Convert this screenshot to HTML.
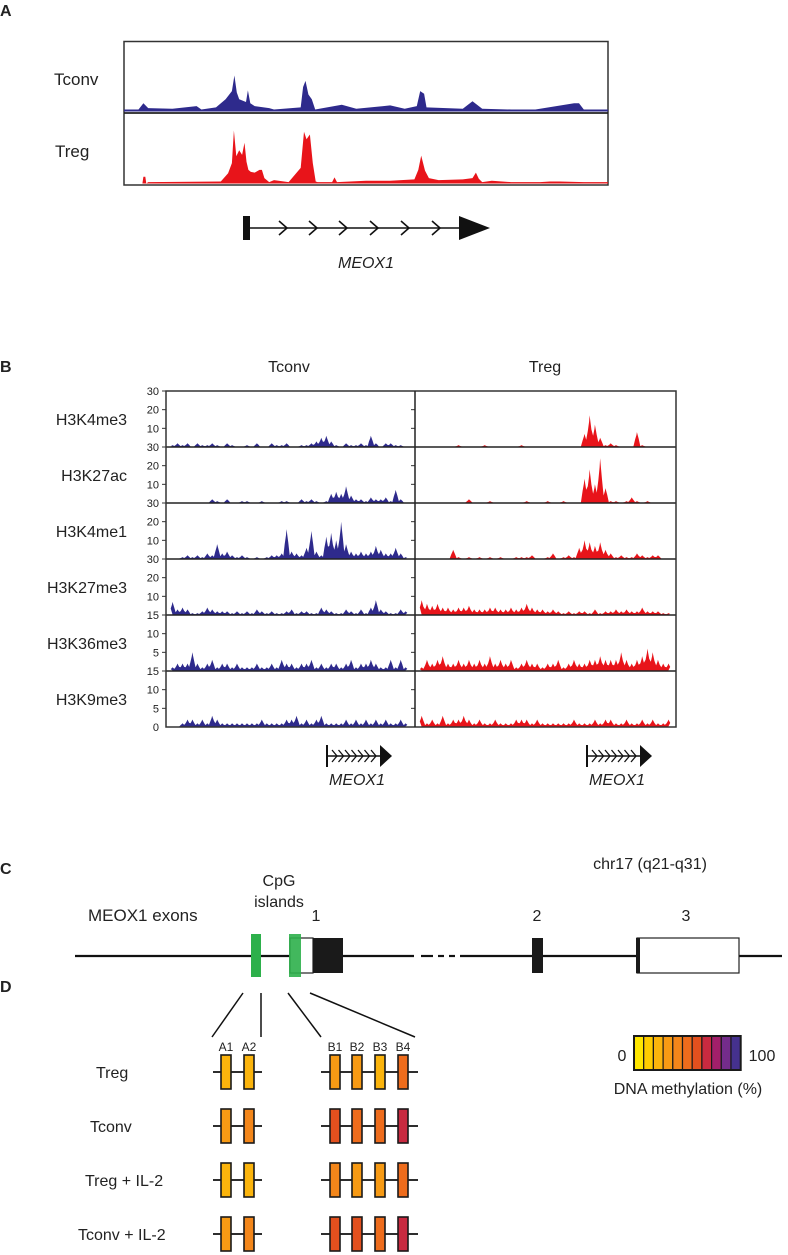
<!DOCTYPE html>
<html><head><meta charset="utf-8"><style>
html,body{margin:0;padding:0;background:#fff}
svg{display:block}
text{font-family:"Liberation Sans",Arial,sans-serif;fill:#222}
</style></head><body>
<svg id="fig" width="788" height="1255" viewBox="0 0 788 1255" xmlns="http://www.w3.org/2000/svg">
<!-- Panel A -->
<g>
<text x="0" y="16" font-size="16" font-weight="bold">A</text>
<rect x="124" y="41.5" width="484" height="143.5" fill="none" stroke="#333" stroke-width="1.5"/>
<line x1="124" y1="113" x2="608" y2="113" stroke="#222" stroke-width="1.8"/>
<text x="54" y="85" font-size="17">Tconv</text>
<text x="55" y="157" font-size="17">Treg</text>
<g id="trackA"></g>
<g>
<rect x="243" y="216" width="7" height="24" fill="#111"/>
<line x1="250" y1="228" x2="462" y2="228" stroke="#111" stroke-width="1.6"/>
<g fill="none" stroke="#111" stroke-width="1.6">
<polyline points="279,221 287,228 279,235"/><polyline points="309,221 317,228 309,235"/>
<polyline points="339,221 347,228 339,235"/><polyline points="370,221 378,228 370,235"/>
<polyline points="401,221 409,228 401,235"/><polyline points="432,221 440,228 432,235"/>
</g>
<polygon points="459,216 459,240 490,228" fill="#111"/>
</g>
<text x="366" y="268" font-size="16" font-style="italic" text-anchor="middle">MEOX1</text>
</g>

<!-- Panel B -->
<g>
<text x="0" y="372" font-size="16" font-weight="bold">B</text>
<text x="289" y="372" font-size="16" text-anchor="middle">Tconv</text>
<text x="545" y="372" font-size="16" text-anchor="middle">Treg</text>
<g id="trackB"></g>
<rect x="166" y="391" width="510" height="336" fill="none" stroke="#333" stroke-width="1.5"/>
<line x1="415" y1="391" x2="415" y2="727" stroke="#222" stroke-width="1.5"/>
<g id="geneB"></g>
</g>

<!-- Panel C -->
<g>
<text x="0" y="874" font-size="16" font-weight="bold">C</text>
<text x="650" y="869" font-size="16" text-anchor="middle">chr17 (q21-q31)</text>
<text x="279" y="886" font-size="16" text-anchor="middle">CpG</text>
<text x="279" y="907" font-size="16" text-anchor="middle">islands</text>
<text x="88" y="921" font-size="17">MEOX1 exons</text>
<text x="316" y="921" font-size="16" text-anchor="middle">1</text>
<text x="537" y="921" font-size="16" text-anchor="middle">2</text>
<text x="686" y="921" font-size="16" text-anchor="middle">3</text>
<g stroke="#111" stroke-width="2.2">
<line x1="75" y1="956" x2="414" y2="956"/>
<line x1="421" y1="956" x2="433" y2="956"/><line x1="438" y1="956" x2="444" y2="956"/><line x1="449" y1="956" x2="455" y2="956"/>
<line x1="460" y1="956" x2="782" y2="956"/>
</g>
<rect x="290" y="938" width="23" height="35" fill="#fff" stroke="#222" stroke-width="1.2"/>
<rect x="313" y="938" width="30" height="35" fill="#1a1a1a"/>
<rect x="532" y="938" width="11" height="35" fill="#1a1a1a"/>
<rect x="637" y="938" width="102" height="35" fill="#fff" stroke="#222" stroke-width="1.2"/>
<rect x="636" y="938" width="4" height="35" fill="#1a1a1a"/>
<rect x="251" y="934" width="10" height="43" fill="#2db04b"/>
<rect x="289" y="934" width="12" height="43" fill="#2db04b" fill-opacity="0.9"/>
</g>

<!-- Panel D -->
<g>
<text x="0" y="992" font-size="16" font-weight="bold">D</text>
<g stroke="#111" stroke-width="1.5">
<line x1="243" y1="993" x2="212" y2="1037"/><line x1="261" y1="993" x2="261" y2="1037"/>
<line x1="288" y1="993" x2="321" y2="1037"/><line x1="310" y1="993" x2="415" y2="1037"/>
</g>
<g id="methyl"></g>
<g id="legend"></g>
<text x="622" y="1061" font-size="16" text-anchor="middle">0</text>
<text x="762" y="1061" font-size="16" text-anchor="middle">100</text>
<text x="688" y="1094" font-size="16" text-anchor="middle">DNA methylation (%)</text>
</g>
</svg>
<script>
// ---------- Panel A data (genomic position %, signal) ----------
const aTconvPos = [0,3,4,5,10,15,16,19,21,22.3,22.8,23.3,23.8,24.5,25.2,25.6,26.1,27,30,31,36.5,37,37.5,38.1,38.8,39.5,45,48,55,58,60.5,61.2,62,62.5,70,72,74,80,85,93,94,95,100];
const aTconvVal = [0.3,0.3,1.2,0.5,0.4,0.8,0.3,0.6,1.8,3,5.3,2.8,1.8,1.6,1.4,3.1,1.2,0.8,0.5,0.3,0.6,3.6,4.5,2.5,1.8,0.3,1,0.4,0.9,0.4,0.8,3,2.6,0.6,0.4,1.5,0.4,0.3,0.3,1.2,1.2,0.3,0.3];
const aTregPos = [0,3.8,4,4.4,4.6,5,20,21.5,22.3,22.7,23.2,23.8,24.4,24.9,25.3,25.7,26.2,27,28,28.5,29,30,31,34,36.5,37.2,37.7,38.4,39,39.6,40,43,43.5,44,50,55,60,60.8,61.4,62.2,63,65,70,72,72.7,73.3,74,76,80,86,88,90,95,100];
const aTregVal = [0,0,1,1,0,0.2,0.3,1.5,3,7.8,4,4.9,4.2,6,3.2,2,1.7,1.6,2,2,0.8,0.2,0.5,0.2,2.3,7.6,6.5,7.2,3,0.3,0.2,0.2,0.9,0.2,0.4,0.4,0.6,2,4.1,1.9,0.8,0.5,0.6,0.8,1.6,0.7,0.2,0.4,0.2,0.2,0.3,0.3,0.2,0.2];

// ---------- Panel B data (48 bins per track) ----------
const marks = ["H3K4me3","H3K27ac","H3K4me1","H3K27me3","H3K36me3","H3K9me3"];
const markMax = [30,30,30,30,15,15];
const tickLabels = [["30","20","10"],["30","20","10"],["30","20","10"],["30","20","10"],["15","10","5"],["15","10","5"]];
const tickValues = [[30,20,10],[30,20,10],[30,20,10],[30,20,10],[15,10,5],[15,10,5]];
const tconvK4me3 = [1,2,1,2,0,2,1,1,2,1,0,2,1,0,0,1,0,2,0,0,2,1,1,2,0,0,1,1,2,3,5,6,3,1,0,2,1,1,2,1,6,2,0,2,2,1,1,0];
const tregK4me3  = [0,0,0,0,0,0,0,1,0,0,0,0,1,0,0,0,0,0,0,1,0,0,0,0,0,0,0,0,0,0,0,7,17,12,5,1,2,1,0,0,0,8,1,0,0,0,0,0];
const tconvK27ac = [0,0,0,0,0,0,0,0,2,1,0,2,0,0,1,1,0,0,1,0,0,0,1,1,0,0,2,1,2,1,0,1,5,6,5,9,4,2,2,1,3,2,2,3,1,7,2,0];
const tregK27ac  = [0,0,0,0,0,0,0,0,0,2,0,0,0,1,0,0,0,0,0,0,1,0,0,0,1,0,0,1,0,0,0,13,18,10,24,8,1,1,0,1,3,1,0,1,0,0,0,0];
const tconvK4me1 = [0,0,1,2,1,2,1,3,2,8,3,4,2,1,2,1,0,1,0,1,2,2,3,16,4,3,2,6,15,4,2,12,14,10,20,8,4,3,4,3,4,7,5,3,3,6,3,1];
const tregK4me1  = [0,0,0,0,0,0,5,1,0,1,0,1,0,1,0,1,0,0,1,1,1,2,0,0,1,3,0,1,2,1,6,10,9,7,9,5,3,1,2,1,1,3,2,1,2,2,0,0];
const tconvK27me3 = [7,3,4,3,1,1,2,4,3,2,2,2,1,2,1,2,1,3,2,1,2,1,1,2,3,1,2,2,1,1,4,3,2,1,1,3,2,1,3,1,4,8,3,2,1,1,3,2];
const tregK27me3  = [8,6,5,6,4,4,3,4,4,5,3,3,3,4,4,3,3,4,3,4,6,4,3,3,2,3,2,1,2,1,2,2,1,3,1,2,2,3,2,3,2,2,4,2,2,2,1,1];
const tconvK36me3 = [1,2,2,2,5,2,1,2,3,1,2,2,1,2,1,1,1,2,1,1,2,1,3,2,2,1,2,2,3,1,2,1,2,2,1,2,3,1,2,2,3,2,1,1,3,1,3,1];
const tregK36me3  = [1,3,2,3,4,2,2,3,2,3,2,3,2,4,2,3,2,3,1,2,3,2,2,1,2,2,3,1,2,3,2,2,3,3,4,3,3,3,5,3,2,3,4,6,5,3,2,2];
const tconvK9me3 = [0,0,1,2,2,1,2,1,3,2,1,1,1,1,1,1,1,1,2,1,1,1,1,2,2,3,1,2,1,2,3,1,1,1,1,2,1,2,1,2,1,2,1,2,1,1,2,1];
const tregK9me3  = [3,1,2,1,3,1,2,2,3,2,1,2,1,1,2,1,1,1,2,2,2,1,2,1,1,1,1,1,1,2,1,1,1,2,1,2,2,1,1,2,1,1,2,1,2,1,1,2];
const tconvSeries = [tconvK4me3,tconvK27ac,tconvK4me1,tconvK27me3,tconvK36me3,tconvK9me3];
const tregSeries  = [tregK4me3,tregK27ac,tregK4me1,tregK27me3,tregK36me3,tregK9me3];

// ---------- Panel D data ----------
const conditions = ["Treg","Tconv","Treg + IL-2","Tconv + IL-2"];
const siteNames = ["A1","A2","B1","B2","B3","B4"];
const methTreg = [15,22,32,28,24,45];
const methTconv = [34,42,60,52,52,70];
const methTregIL2 = [15,22,36,33,26,45];
const methTconvIL2 = [32,38,63,55,52,70];
const methRows = [methTreg,methTconv,methTregIL2,methTconvIL2];
const legendSteps = [0,10,20,30,40,50,60,70,80,90,100];

const NS = "http://www.w3.org/2000/svg";
function mk(tag, attrs, parent){const e=document.createElementNS(NS,tag);for(const k in attrs)e.setAttribute(k,attrs[k]);parent.appendChild(e);return e;}

// Panel A
const gA = document.getElementById('trackA');
function aX(p){return 124 + p*4.84;}
function areaA(pos, val, base, pxPerUnit, color, name){
  let pts = aX(pos[0])+","+base;
  for(let i=0;i<pos.length;i++) pts += " "+aX(pos[i]).toFixed(1)+","+(base-val[i]*pxPerUnit).toFixed(1);
  pts += " "+aX(pos[pos.length-1])+","+base;
  const p = mk('polygon',{points:pts,fill:color},gA);
  
  
}
areaA(aTconvPos,aTconvVal,111.5,6.8,'#2e2a8c','tconv-signal-a');
areaA(aTregPos,aTregVal,183.5,6.8,'#e8141a','treg-signal-a');

// Panel B
const gB = document.getElementById('trackB');
const rowTop = 391, rowH = 56;
function yB(r, v){return rowTop + (r+1)*rowH - v/markMax[r]*rowH;}
function xB(col, i){const x0 = col===0?170:419, w = col===0?238:252; return x0 + (i+0.5)*w/48;}
for(let r=0;r<marks.length;r++){
  const lab = mk('text',{x:127,y:rowTop+r*rowH+34,'font-size':16,'text-anchor':'end'},gB);
  lab.textContent = marks[r];
  
  
  for(let t=0;t<tickValues[r].length;t++){
    const y = yB(r, tickValues[r][t]);
    const tl = mk('text',{x:159,y:y+4,'font-size':11,'text-anchor':'end',fill:'#333'},gB);
    tl.textContent = tickLabels[r][t];
    
    
    mk('line',{x1:162,y1:y,x2:166,y2:y,stroke:'#333','stroke-width':1},gB);
    mk('line',{x1:411,y1:y,x2:415,y2:y,stroke:'#333','stroke-width':1},gB);
  }
  if(r>0) mk('line',{x1:166,y1:rowTop+r*rowH,x2:676,y2:rowTop+r*rowH,stroke:'#222','stroke-width':1.5},gB);
  [[tconvSeries[r],0,'#2e2a8c','tconv'],[tregSeries[r],1,'#e8141a','treg']].forEach(([s,col,c,nm])=>{
    const base = rowTop+(r+1)*rowH - 0.5;
    let pts = xB(col,0).toFixed(1)+","+base;
    for(let i=0;i<s.length;i++){
      pts += " "+(xB(col,i)-1.8).toFixed(1)+","+Math.min(base, yB(r,s[i]*0.5)).toFixed(1);
      pts += " "+(xB(col,i)-0.5).toFixed(1)+","+Math.min(base, yB(r,s[i]*0.8)).toFixed(1);
      pts += " "+xB(col,i).toFixed(1)+","+Math.min(base, yB(r,s[i])).toFixed(1);
      pts += " "+(xB(col,i)+1.8).toFixed(1)+","+Math.min(base, yB(r,s[i]*0.55)).toFixed(1);
    }
    pts += " "+xB(col,s.length-1).toFixed(1)+","+base;
    const p = mk('polygon',{points:pts,fill:c},gB);
    
    
  });
}
const zero = mk('text',{x:159,y:731,'font-size':11,'text-anchor':'end',fill:'#333'},gB);
zero.textContent = "0";



const gG = document.getElementById('geneB');
[[327,357,'tconv'],[587,617,'treg']].forEach(([x0,cx,nm])=>{
  const g = mk('g',{},gG);
  
  
  mk('line',{x1:x0,y1:745,x2:x0,y2:767,stroke:'#111','stroke-width':2},g);
  mk('line',{x1:x0,y1:756,x2:x0+54,y2:756,stroke:'#111','stroke-width':1.4},g);
  for(let k=0;k<7;k++){const cx0=x0+5+k*6.5;mk('polyline',{points:`${cx0},750 ${cx0+5},756 ${cx0},762`,fill:'none',stroke:'#111','stroke-width':1.3},g);}
  mk('polygon',{points:`${x0+53},745 ${x0+53},767 ${x0+65},756`,fill:'#111'},g);
  const t = mk('text',{x:cx,y:785,'font-size':16,'font-style':'italic','text-anchor':'middle'},gG);
  t.textContent = "MEOX1";
  
  
});

// Panel D
const palette = ['#ffe600','#ffcc00','#fbb40c','#f79a14','#f3861a','#ee6c1c','#e2501e','#c82a40','#a21f6a','#742c8a','#45318e'];
function methColor(v){return palette[Math.max(0,Math.min(10,Math.round(v/10)))];}
const gM = document.getElementById('methyl');
const siteX = [226,249,335,357,380,403];
const rowY = [1072,1126,1180,1234];
const rowLabelX = [96,90,85,78];
siteNames.forEach((s,i)=>{
  const t = mk('text',{x:siteX[i],y:1051,'font-size':12,'text-anchor':'middle',fill:'#333'},gM);
  t.textContent = s;
  
  
});
conditions.forEach((c,r)=>{
  const y = rowY[r];
  const t = mk('text',{x:rowLabelX[r],y:y+6,'font-size':16},gM);
  t.textContent = c;
  
  
  mk('line',{x1:213,y1:y,x2:262,y2:y,stroke:'#111','stroke-width':1.8},gM);
  mk('line',{x1:321,y1:y,x2:418,y2:y,stroke:'#111','stroke-width':1.8},gM);
  methRows[r].forEach((v,i)=>{
    const b = mk('rect',{x:siteX[i]-5,y:y-17,width:10,height:34,fill:methColor(v),stroke:'#1a1a1a','stroke-width':1.6},gM);
    
    
  });
});
const gL = document.getElementById('legend');
legendSteps.forEach((v,i)=>{
  const c = mk('rect',{x:634+i*9.7,y:1036,width:9.7,height:34,fill:methColor(v),stroke:'#1a1a1a','stroke-width':1.2},gL);
  
  
});
mk('rect',{x:634,y:1036,width:106.7,height:34,fill:'none',stroke:'#1a1a1a','stroke-width':2},gL);
</script>
</body></html>
